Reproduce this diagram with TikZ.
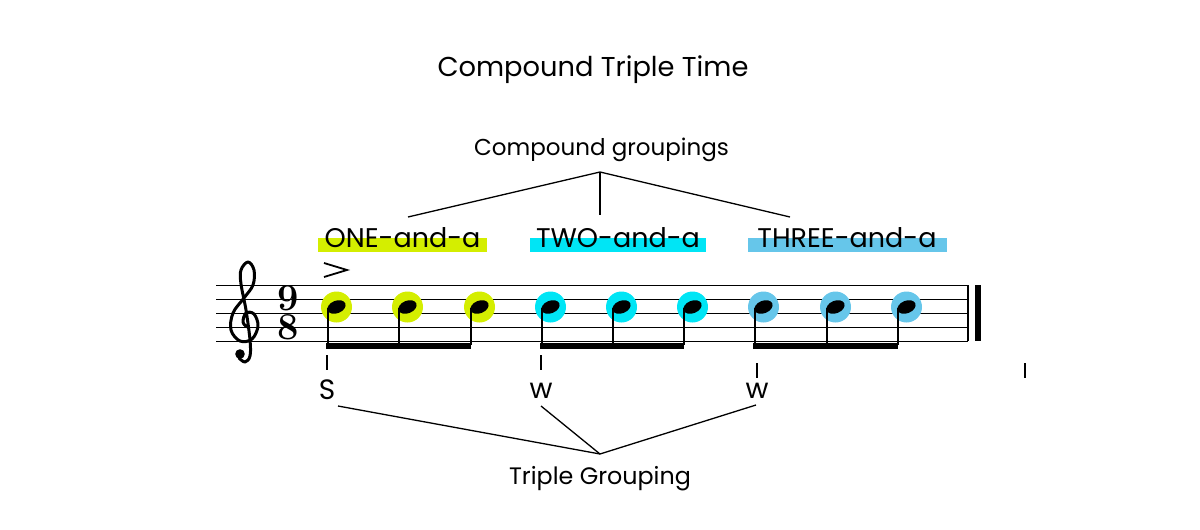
\documentclass[tikz,border=0pt]{standalone}
\usepackage{fontspec}
\setmainfont{Poppins}
\usetikzlibrary{shapes.geometric}
\definecolor{onecol}{HTML}{D4EE00}
\definecolor{twocol}{HTML}{00E5F5}
\definecolor{threecol}{HTML}{66C6EA}

\begin{document}
\begin{tikzpicture}[x=1pt,y=-1pt,
    staffline/.style={line width=1pt},
    glow/.style={circle,inner sep=0pt,minimum size=31pt},
    head/.style={ellipse,fill=black,inner sep=0pt,minimum width=19pt,minimum height=12.5pt,rotate=22},
    stem/.style={line width=1.8pt},
    tick/.style={line width=1.8pt},
    connector/.style={line width=1.3pt},
    beat/.style={inner sep=0pt,anchor=base,font=\fontsize{28}{30}\selectfont},
    count/.style={inner sep=0pt,anchor=base,font=\fontsize{27}{30}\selectfont},
    timesig/.style={inner sep=0pt,align=center,font=\fontspec{Latin Modern Roman}\bfseries\fontsize{38}{29}\selectfont}]
  \useasboundingbox (0,0) rectangle (1200,530);
  \node[inner sep=0pt,anchor=base,font=\fontsize{27.3}{30}\selectfont] (title) at (593,76) {Compound Triple Time};
  \node[inner sep=0pt,anchor=base,font=\fontsize{23}{26}\selectfont] (groups) at (601.5,155) {Compound groupings};
  \node[inner sep=0pt,anchor=base,font=\fontsize{23.8}{26}\selectfont] (triple) at (600,484) {Triple Grouping};

  % staff
  \foreach \y in {285,299,313,327,341}
    \draw[staffline] (216,\y) -- (968,\y);
  \draw[line width=1.5pt] (968,285) -- (968,341);
  \fill (975,285) rectangle (981,341);

  % treble clef
  \draw[line width=3pt,line cap=round,line join=round] plot[smooth,tension=0.6] coordinates {
    (247,327) (243,322) (246,313) (254,314) (258,326) (252,339) (240,341)
    (231,330) (233,313) (244,298) (253,285) (254,270) (248,262) (241,270)
    (241,284) (246,310) (250,340) (250,356) (245,362) (239,358)};
  \fill (240,354) circle (4.8);
  \node[timesig] (meter) at (288,313) {9\\8};

  % accent
  \draw[line width=1.8pt,line join=miter] (324,263) -- (347,270) -- (324,277);

  % notes
  \foreach \sx/\col [count=\i] in {327/onecol,398/onecol,470/onecol,541/twocol,612/twocol,683/twocol,754/threecol,826/threecol,897/threecol} {
    \node[glow,fill=\col] (g\i) at (\sx+9.5,307) {};
    \node[head] (n\i) at (\sx+9.5,307) {};
    \draw[stem] (\sx+0.9,308) -- (\sx+0.9,345);
  }
  \fill (326,343) rectangle (471,349);
  \fill (540,343) rectangle (684,349);
  \fill (753,343) rectangle (898,349);

  % counting
  \fill[onecol] (318,238) rectangle (487,252);
  \fill[twocol] (530,238) rectangle (706,252);
  \fill[threecol] (748,238) rectangle (947,252);
  \node[count] (one) at (402.5,247) {ONE-and-a};
  \node[count] (two) at (618,247) {TWO-and-a};
  \node[count] (three) at (847,247) {THREE-and-a};

  \coordinate (top) at (600,172);
  \coordinate (c1) at (408,217);
  \coordinate (c2) at (600,215);
  \coordinate (c3) at (790,217);
  \draw[connector] (c1) -- (top) -- (c3);
  \draw[connector] (top) -- (c2);

  % strong and weak beats
  \draw[tick] (327,355) -- (327,370);
  \draw[tick] (541,355) -- (541,370);
  \draw[tick] (757,363) -- (757,378);
  \draw[tick] (1025,363) -- (1025,378);
  \node[beat] (s1) at (327,399) {S};
  \node[beat] (w1) at (541,398) {w};
  \node[beat] (w2) at (757,398) {w};

  \coordinate (bot) at (600,454);
  \coordinate (b1) at (338,406);
  \coordinate (b2) at (541,406);
  \coordinate (b3) at (756,405);
  \draw[connector] (b1) -- (bot) -- (b3);
  \draw[connector] (b2) -- (bot);
\end{tikzpicture}
\end{document}
